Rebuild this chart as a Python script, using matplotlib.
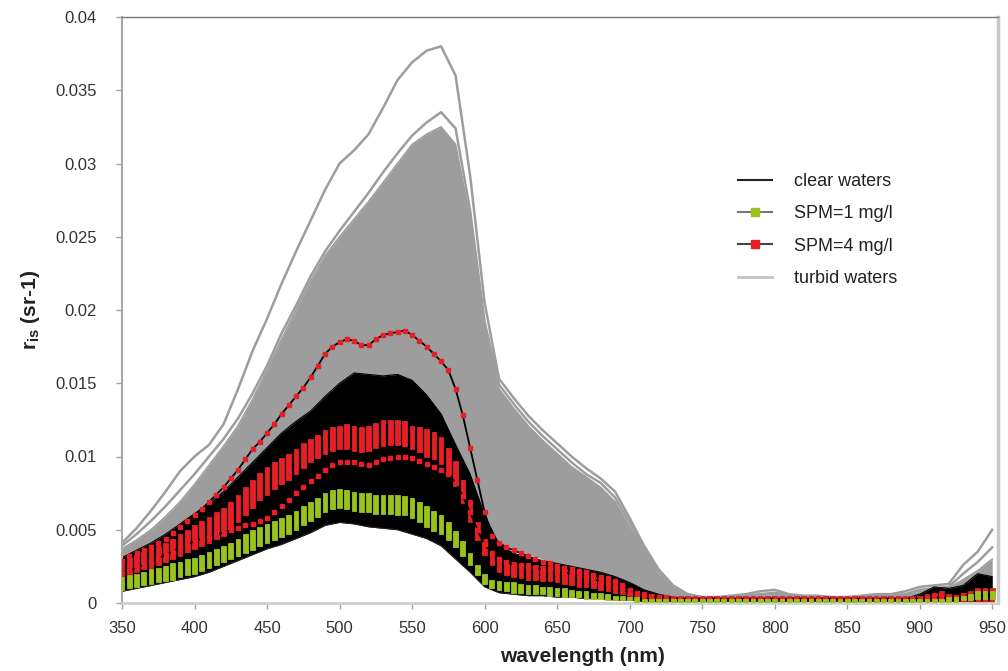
import matplotlib
matplotlib.use("Agg")
import numpy as np
import matplotlib.pyplot as plt
from matplotlib.lines import Line2D

plt.rcParams['font.family'] = ['Liberation Sans', 'DejaVu Sans']
plt.rcParams['mathtext.fontset'] = 'custom'
plt.rcParams['mathtext.rm'] = 'Liberation Sans'
plt.rcParams['mathtext.bf'] = 'Liberation Sans:bold'

# ---------------- data (reflectance values in units of 1e-4 sr-1) ----------------
UNIT = 1e-4
wl10 = list(range(350, 951, 10))   # wavelengths of envelope curves (nm)
wl5 = list(range(350, 951, 5))     # wavelengths of marker series (nm)

turbid_top = [41, 51, 63, 76, 90, 100, 108, 122, 146, 172,
              194, 218, 240, 261, 282, 300, 309, 320, 338, 357,
              369, 377, 380, 360, 292, 205, 153, 140, 128, 118,
              109, 100, 92, 85, 76, 58, 39, 23, 12, 6,
              4, 4, 5, 6, 8, 9, 6, 5, 5, 4,
              4, 5, 6, 6, 8, 11, 12, 13, 26, 35,
              50]
turbid_second = [39, 47, 56, 66, 77, 88, 100, 112, 126, 143,
                 162, 184, 203, 223, 240, 254, 267, 280, 294, 307,
                 319, 328, 335, 324, 268, 192, 149, 136, 124, 114,
                 105, 96, 88, 82, 72, 55, 37, 21, 11, 6,
                 4, 4, 4, 5, 6, 7, 5, 4, 4, 4,
                 4, 4, 5, 5, 6, 9, 10, 11, 20, 28,
                 38]
turbid_bundle_high = [37, 43, 50, 59, 69, 81, 94, 107, 121, 139,
                      159, 180, 200, 220, 237, 250, 262, 274, 287, 300,
                      313, 320, 325, 313, 262, 188, 146, 133, 121, 111,
                      102, 93, 86, 79, 69, 52, 35, 19, 10, 5,
                      4, 3, 3, 4, 5, 6, 4, 3, 3, 3,
                      3, 4, 4, 5, 6, 8, 9, 10, 16, 22,
                      30]
turbid_low = [25, 28, 31, 35, 39, 44, 48, 52, 57, 62,
              68, 74, 80, 86, 91, 95, 96, 95, 97, 99,
              99, 96, 92, 84, 66, 46, 41, 37, 33, 30,
              27, 24, 22, 19, 16, 10, 6, 4, 3, 2,
              2, 2, 2, 2, 2, 2, 2, 2, 2, 2,
              2, 2, 2, 2, 2, 2, 3, 3, 4, 5,
              6]
clear_low = [8, 10, 12, 14, 16, 18, 21, 25, 29, 33,
             37, 40, 44, 48, 53, 55, 54, 52, 51, 50,
             47, 44, 39, 30, 21, 11, 7, 6, 5, 5,
             4, 4, 3, 3, 2, 2, 1, 1, 1, 1,
             1, 1, 1, 1, 1, 1, 1, 1, 1, 1,
             1, 1, 1, 1, 1, 1, 1, 1, 1, 1,
             1]
clear_high = [31, 36, 41, 47, 54, 61, 68, 76, 86, 96,
              106, 116, 124, 131, 141, 150, 157, 156, 155, 156,
              152, 142, 129, 108, 88, 60, 40, 34, 31, 29,
              27, 25, 23, 21, 18, 14, 9, 6, 4, 3,
              3, 3, 3, 3, 3, 3, 3, 3, 3, 3,
              3, 3, 3, 3, 3, 6, 11, 10, 12, 20,
              18]

spm1_low = [9, 10, 11, 12, 13, 14, 15, 16, 18, 19, 20, 22, 24, 26, 28, 30, 32, 34, 36, 39,
            41, 43, 45, 47, 50, 53, 56, 59, 62, 64, 65, 64, 63, 62, 62, 61, 61, 61, 60, 60,
            58, 55, 52, 49, 47, 43, 38, 32, 26, 19, 13, 10, 9, 8, 7, 7, 6, 6, 6, 5,
            5, 4, 4, 4, 3, 3, 3, 2, 2, 2, 2, 1, 1, 1, 1, 1, 1, 1, 1, 1,
            1, 1, 1, 1, 1, 1, 1, 1, 1, 1, 1, 1, 1, 1, 1, 1, 1, 1, 1, 1,
            1, 1, 1, 1, 1, 1, 1, 1, 1, 1, 1, 1, 1, 1, 1, 1, 2, 2, 3, 3,
            3]
spm1_high = [18, 19, 20, 21, 23, 24, 25, 27, 28, 30, 31, 33, 35, 37, 39, 41, 44, 47, 50, 52,
             54, 56, 58, 60, 63, 66, 69, 72, 75, 77, 78, 77, 76, 75, 75, 74, 74, 74, 74, 73,
             72, 69, 66, 63, 60, 55, 49, 42, 34, 26, 20, 16, 15, 14, 14, 13, 12, 12, 11, 11,
             10, 10, 9, 8, 8, 7, 7, 6, 5, 5, 4, 4, 3, 3, 3, 3, 3, 3, 3, 3,
             3, 3, 3, 3, 3, 3, 3, 3, 3, 3, 3, 3, 3, 3, 3, 3, 3, 3, 3, 3,
             3, 3, 3, 3, 3, 3, 3, 3, 3, 3, 3, 3, 3, 3, 4, 4, 5, 6, 8, 8,
             8]
spm4_low = [19, 20, 21, 23, 24, 26, 28, 30, 32, 35, 37, 39, 41, 44, 46, 50, 55, 60, 65, 70,
            74, 78, 81, 84, 88, 92, 96, 99, 102, 104, 105, 105, 104, 103, 104, 106, 107, 108, 108, 107,
            105, 103, 100, 98, 95, 88, 80, 68, 55, 43, 33, 26, 21, 19, 18, 17, 16, 16, 15, 15,
            14, 13, 12, 11, 11, 10, 9, 8, 7, 6, 5, 4, 4, 3, 3, 3, 3, 3, 3, 3,
            3, 3, 3, 3, 3, 3, 3, 3, 3, 3, 3, 3, 3, 3, 3, 3, 3, 3, 3, 3,
            3, 3, 3, 3, 3, 3, 3, 3, 3, 3, 3, 3, 3, 3, 3, 3, 3, 3, 4, 4,
            4]
spm4_high = [29, 31, 33, 35, 37, 39, 41, 44, 47, 50, 53, 56, 59, 62, 65, 69, 74, 79, 84, 89,
             93, 96, 99, 102, 105, 109, 112, 115, 118, 120, 121, 122, 121, 120, 121, 123, 125, 125, 125, 124,
             121, 120, 119, 117, 113, 106, 97, 84, 70, 55, 44, 35, 30, 28, 28, 27, 27, 26, 25, 25,
             24, 23, 22, 20, 19, 18, 17, 16, 14, 12, 10, 8, 7, 6, 5, 5, 5, 5, 5, 5,
             5, 5, 5, 5, 5, 5, 5, 5, 5, 5, 5, 5, 5, 5, 5, 5, 5, 5, 5, 5,
             5, 5, 5, 5, 5, 5, 5, 5, 5, 5, 5, 6, 7, 8, 6, 5, 7, 8, 10, 10,
             10]
spm4_line_upper = [29, 32, 34, 36, 38, 41, 44, 48, 52, 56, 60, 64, 69, 74, 79, 85, 91, 98, 105, 110,
                   116, 122, 129, 135, 141, 147, 154, 162, 170, 175, 178, 180, 179, 176, 176, 180, 183, 184, 185, 186,
                   183, 179, 175, 170, 165, 159, 146, 128, 106, 84, 62, 46, 41, 38, 36, 34, 32, 30, 28, 27,
                   25, 24, 23, 22, 21, 19, 18, 17, 15, 12, 9, 7, 6, 5, 4, 4, 3, 3, 3, 3,
                   3, 3, 3, 3, 3, 3, 3, 3, 3, 3, 3, 3, 3, 3, 3, 3, 3, 3, 3, 3,
                   3, 3, 3, 3, 3, 3, 3, 3, 3, 3, 3, 4, 4, 4, 4, 4, 5, 6, 7, 8,
                   8]
spm4_line_lower = [20, 22, 24, 26, 28, 30, 33, 35, 38, 40, 42, 44, 45, 47, 48, 50, 51, 53, 54, 56,
                   58, 62, 66, 70, 75, 79, 83, 87, 91, 94, 96, 96, 96, 95, 94, 96, 98, 99, 100, 100,
                   99, 97, 95, 93, 91, 88, 82, 73, 62, 50, 40, 34, 30, 28, 26, 25, 24, 24, 23, 23,
                   22, 21, 20, 19, 18, 16, 15, 13, 11, 9, 7, 6, 5, 4, 4, 3, 3, 3, 3, 3,
                   3, 3, 3, 3, 3, 3, 3, 3, 3, 3, 3, 3, 3, 3, 3, 3, 3, 3, 3, 3,
                   3, 3, 3, 3, 3, 3, 3, 3, 3, 3, 3, 3, 3, 3, 3, 3, 3, 3, 3, 3,
                   3]

x_ticks = [350, 400, 450, 500, 550, 600, 650, 700, 750, 800, 850, 900, 950]
y_ticks = [0, 0.005, 0.01, 0.015, 0.02, 0.025, 0.03, 0.035, 0.04]
y_tick_labels = ["0", "0.005", "0.01", "0.015", "0.02", "0.025", "0.03", "0.035", "0.04"]
legend_labels = ["clear waters", "SPM=1 mg/l", "SPM=4 mg/l", "turbid waters"]

# ---------------- styling ----------------
GRAY = '#9d9d9d'
RED = '#e61e25'
GREEN = '#99c31c'


def v(a):
    return np.asarray(a, dtype=float) * UNIT


fig = plt.figure(figsize=(10.08, 6.71), dpi=100)
ax = fig.add_axes([122 / 1008, 1 - 603 / 671, 876 / 1008, 586 / 671])

# turbid waters
ax.fill_between(wl10, v(turbid_low), v(turbid_bundle_high), color=GRAY, lw=0, zorder=1)
ax.plot(wl10, v(turbid_bundle_high), color=GRAY, lw=1.2, zorder=1)
ax.plot(wl10, v(turbid_second), color=GRAY, lw=1.8, zorder=1)
ax.plot(wl10, v(turbid_top), color=GRAY, lw=1.8, zorder=1)

# clear waters
ax.fill_between(wl10, v(clear_low), v(clear_high), color='black', lw=0, zorder=2)
ax.plot(wl10, v(clear_high), color='black', lw=0.8, zorder=2)
ax.plot(wl10, v(clear_low), color='#222222', lw=0.8, zorder=2)

# SPM = 4 mg/l
lo4, hi4 = v(spm4_low), v(spm4_high)
ax.bar(wl5, hi4 - lo4, bottom=lo4, width=3.2, color=RED, edgecolor=RED, lw=0.6, zorder=3)
for series in (spm4_line_lower, spm4_line_upper):
    ax.plot(wl5, v(series), color='black', lw=1.3, zorder=4)
    ax.plot(wl5, v(series), ls='none', marker='s', ms=3.4, mfc=RED, mec=RED, zorder=4)

# SPM = 1 mg/l
lo1, hi1 = v(spm1_low), v(spm1_high)
ax.bar(wl5, hi1 - lo1, bottom=lo1, width=3.3, color=GREEN, edgecolor=GREEN, lw=0.6, zorder=5)

# axes
ax.set_xlim(350, 954)
ax.set_ylim(0, 0.04)
ax.set_xticks(x_ticks)
ax.set_xticklabels([str(t) for t in x_ticks])
ax.set_yticks(y_ticks)
ax.set_yticklabels(y_tick_labels)
ax.tick_params(axis='both', direction='out', length=4, width=1, color='#a0a0a0',
               labelsize=12, labelcolor='#333333')
ax.tick_params(axis='y', pad=14)
ax.tick_params(axis='x', pad=9)
ax.spines['left'].set_color('#a8a8a8')
ax.spines['left'].set_linewidth(1.5)
ax.spines['bottom'].set_color('#d0d0d0')
ax.spines['bottom'].set_linewidth(2)
ax.spines['top'].set_color('#7a7a7a')
ax.spines['top'].set_linewidth(1.0)
ax.spines['right'].set_color('#c8c8c8')
ax.spines['right'].set_linewidth(2.5)

fig.text(583 / 1008, 1 - 657 / 671, "wavelength (nm)", ha='center', va='center',
         fontsize=15, fontweight='bold', color='#222222')
fig.text(31 / 1008, 1 - 310 / 671, r"r$_{\mathbf{is}}$ (sr-1)", ha='center', va='center',
         rotation=90, fontsize=15, fontweight='bold', color='#222222')

handles = [
    Line2D([], [], color='#222222', lw=1.5),
    Line2D([], [], color='#777777', lw=1.5, marker='s', ms=6, mfc=GREEN, mec=GREEN),
    Line2D([], [], color='#444444', lw=1.5, marker='s', ms=6, mfc=RED, mec=RED),
    Line2D([], [], color='#c4c4c4', lw=2),
]
leg = fig.legend(handles, legend_labels, loc='upper left',
                 bbox_to_anchor=(738 / 1008, 1 - 173 / 671), bbox_transform=fig.transFigure,
                 frameon=False, fontsize=13, handlelength=1.9, handletextpad=1.2,
                 labelspacing=0.85, borderpad=0, borderaxespad=0)
for t in leg.get_texts():
    t.set_color('#222222')

fig.savefig("out.png", dpi=100)
